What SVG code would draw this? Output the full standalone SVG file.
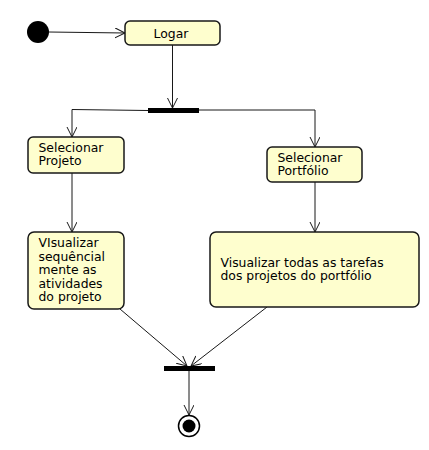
<svg xmlns="http://www.w3.org/2000/svg" width="429" height="450" viewBox="0 0 429 450">
<style>
.box{fill:#FEFECE;stroke:#181818;stroke-width:1.5}
.t{font-family:"DejaVu Sans",sans-serif;font-size:12.4px;fill:#000}
.c{fill:none;stroke:#181818;stroke-width:1;marker-end:url(#arr)}
.bar{fill:#000}
</style>
<defs>
<marker id="arr" markerUnits="userSpaceOnUse" markerWidth="12" markerHeight="11" refX="10" refY="5" orient="auto" viewBox="0 0 12 11">
<path d="M0,0 L10,5 L0,10" fill="none" stroke="#181818" stroke-width="1"/>
</marker>
</defs>
<g id="connectors">
<path class="c" d="M49,32 L125,33"/>
<path class="c" d="M172.5,45 L172.5,108"/>
<path class="c" d="M148,110.5 L72,109.5 L72,137"/>
<path class="c" d="M199,110 L315,110 L315,147"/>
<path class="c" d="M72,173 L72,232"/>
<path class="c" d="M315,182 L315,232"/>
<path class="c" d="M120,309 L187,366"/>
<path class="c" d="M267,307 L191,366"/>
<path class="c" d="M189,371 L189,415"/>
</g>
<g id="start"><circle cx="38" cy="32" r="11" fill="#000"/></g>
<g id="logar">
<rect class="box" x="125" y="21" width="95" height="24" rx="5"/>
<text class="t" x="153.5" y="37.5">Logar</text>
</g>
<g id="fork"><rect class="bar" x="148" y="108" width="51" height="5"/></g>
<g id="selecionar-projeto">
<rect class="box" x="28" y="137" width="96" height="36" rx="5"/>
<text class="t" x="38.5" y="151.75">Selecionar</text>
<text class="t" x="38.5" y="165.25">Projeto</text>
</g>
<g id="selecionar-portfolio">
<rect class="box" x="267" y="147" width="95" height="35" rx="5"/>
<text class="t" x="277.5" y="161.75">Selecionar</text>
<text class="t" x="277.5" y="175.25">Portfólio</text>
</g>
<g id="visualizar-projeto">
<rect class="box" x="28" y="232" width="96" height="77" rx="6"/>
<text class="t" x="38.5" y="247">VIsualizar</text>
<text class="t" x="38.5" y="260.5">sequêncial</text>
<text class="t" x="38.5" y="274">mente as</text>
<text class="t" x="38.5" y="287.5">atividades</text>
<text class="t" x="38.5" y="301">do projeto</text>
</g>
<g id="visualizar-portfolio">
<rect class="box" x="210" y="232" width="209" height="75" rx="6"/>
<text class="t" x="220.5" y="266.75">Visualizar todas as tarefas</text>
<text class="t" x="220.5" y="280.25">dos projetos do portfólio</text>
</g>
<g id="join"><rect class="bar" x="164" y="366" width="51" height="5"/></g>
<g id="end">
<circle cx="189" cy="426" r="10.5" fill="none" stroke="#000" stroke-width="1.5"/>
<circle cx="189" cy="426" r="6.5" fill="#000"/>
</g>
</svg>
